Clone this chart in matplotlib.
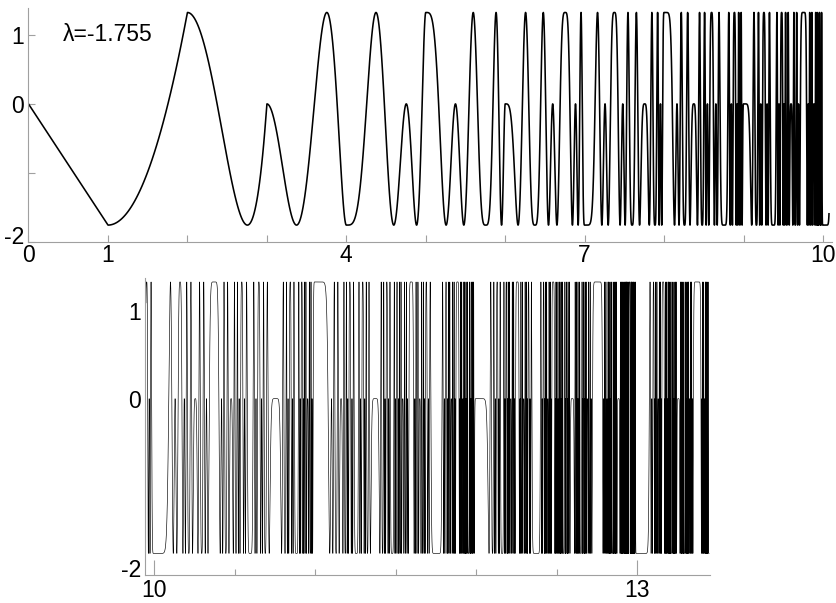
import numpy as np
import matplotlib
matplotlib.use("Agg")
import matplotlib.pyplot as plt
from matplotlib.transforms import ScaledTranslation

# Difference equation with continuous time: x(t + 1) = x(t)^2 + lambda,
# started from a linear initial function on [0, 1].
LAMBDA = -1.755
INIT_START = 0.0          # x(0)
INIT_END = LAMBDA         # x(1-)
SAMPLES_PER_UNIT = 200000

# Displayed time windows
top_t_range = (0.0, 10.075)
bottom_t_range = (9.95, 13.447)

# Ticks and labels
top_xticks = list(range(0, 11))
top_xticklabels = ["0", "1", "", "", "4", "", "", "7", "", "", "10"]
top_yticks = [-2, -1, 0, 1]
top_yticklabels = ["-2", "", "0", "1"]
bottom_major_xticks = [10, 13]
bottom_minor_xticks = [10.5, 11, 11.5, 12, 12.5]
bottom_yticks = [-2, 0, 1]
bottom_yticklabels = ["-2", "0", "1"]
label_text = "\u03bb=-1.755"


def trajectory(t_max):
    s = np.linspace(0.0, 1.0, SAMPLES_PER_UNIT, endpoint=False)
    x = INIT_START + (INIT_END - INIT_START) * s
    ts, xs = [], []
    for n in range(int(np.ceil(t_max))):
        ts.append(n + s)
        xs.append(x.copy())
        x = x * x + LAMBDA
    return np.concatenate(ts), np.concatenate(xs)


t, x = trajectory(bottom_t_range[1] + 0.01)

plt.rcParams["font.family"] = ["Liberation Sans", "DejaVu Sans"]
plt.rcParams["path.simplify_threshold"] = 0.05

fig = plt.figure(figsize=(8.37, 6.03), dpi=100)
spine_color = "#a0a0a0"
FS = 16.5

ax1 = fig.add_axes([28.5 / 837, 1 - 242 / 603, (832 - 28.5) / 837, (242 - 8) / 603])
ax2 = fig.add_axes([145 / 837, 1 - 575 / 603, (710 - 145) / 837, (575 - 278) / 603])

m1 = (t >= top_t_range[0]) & (t <= top_t_range[1])
ax1.plot(t[m1], x[m1], color="black", lw=1.15, solid_joinstyle="round")
m2 = (t >= bottom_t_range[0]) & (t <= bottom_t_range[1])
ax2.plot(t[m2], x[m2], color="black", lw=0.45)

ax1.set_xlim(0, 10.113)
ax1.set_ylim(-2, 1.39)
ax2.set_xlim(9.944, 13.453)
ax2.set_ylim(-2, 1.37)

for ax in (ax1, ax2):
    for side in ("top", "right"):
        ax.spines[side].set_visible(False)
    for side in ("left", "bottom"):
        ax.spines[side].set_color(spine_color)
        ax.spines[side].set_linewidth(0.8)
    ax.set_facecolor("none")

ax1.set_xticks(top_xticks)
ax1.set_xticklabels(top_xticklabels, fontsize=FS)
ax1.set_yticks(top_yticks)
ax1.set_yticklabels(top_yticklabels, fontsize=FS)
ax1.tick_params(axis="both", direction="in", length=5, width=0.8,
                color=spine_color)
ax1.tick_params(axis="x", pad=1.5)
ax1.tick_params(axis="y", pad=3)

ax2.set_xticks(bottom_major_xticks)
ax2.set_xticklabels([str(v) for v in bottom_major_xticks], fontsize=FS)
ax2.set_xticks(bottom_minor_xticks, minor=True)
ax2.tick_params(axis="x", which="major", direction="in", length=11,
                width=0.8, color=spine_color, pad=3)
ax2.tick_params(axis="x", which="minor", direction="in", length=4,
                width=0.8, color=spine_color)
ax2.set_yticks(bottom_yticks)
ax2.set_yticklabels(bottom_yticklabels, fontsize=FS)
ax2.tick_params(axis="y", length=0, pad=3)

# lift the bottom "-2" labels a little off the axis line
for ax in (ax1, ax2):
    lab = ax.get_yticklabels()[0]
    lab.set_transform(lab.get_transform() + ScaledTranslation(0, 5 / 72, fig.dpi_scale_trans))

ax1.text(0.43, 1.0, label_text, fontsize=FS, va="center", ha="left")

fig.savefig("out.png", dpi=100)
